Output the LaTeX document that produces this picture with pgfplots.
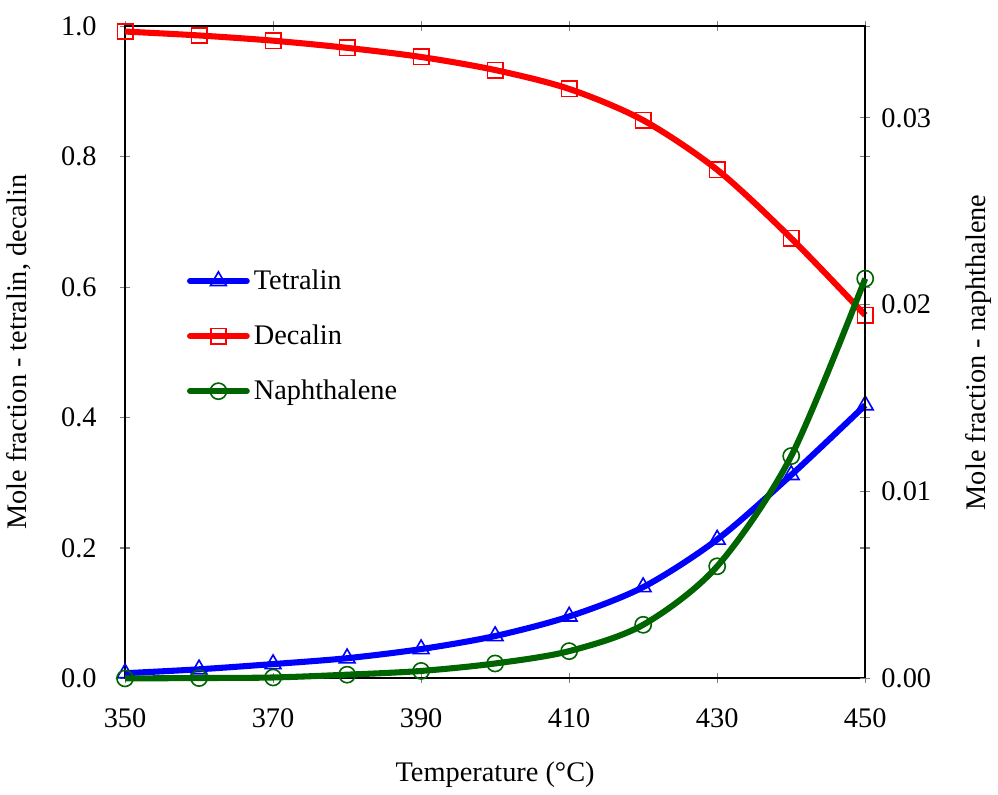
\documentclass[border=0pt]{standalone}
\usepackage{fontspec}
\setmainfont{Liberation Serif}
\usepackage{pgfplots}
\pgfplotsset{compat=1.18}

\definecolor{cTet}{RGB}{0,0,255}
\definecolor{cDec}{RGB}{255,0,0}
\definecolor{cNap}{RGB}{0,100,0}

\pgfplotsset{
  common/.style={
    scale only axis,
    width=365.5pt, height=322pt,
    xmin=350, xmax=450,
    xtick={350,370,...,450},
    tick align=center,
    major tick length=5pt,
    tick style={gray, line width=0.5pt},
    axis line style={black, line width=1pt},
    ticklabel style={font=\fontsize{14}{16}\selectfont},
    label style={font=\fontsize{14}{16}\selectfont},
    /pgf/number format/assume math mode=true,
    clip=false,
  },
}

\begin{document}
\begin{tikzpicture}
\begin{axis}[
  common,
  ymin=0, ymax=1,
  ytick={0,0.2,...,1.0},
  yticklabel style={/pgf/number format/fixed, /pgf/number format/fixed zerofill,
    /pgf/number format/precision=1, xshift=-8pt},
  xticklabel style={yshift=-9pt},
  xlabel={Temperature (°C)},
  ylabel={Mole fraction - tetralin, decalin},
  xlabel style={yshift=-10pt},
  ylabel style={yshift=8pt},
  legend style={at={(0.075,0.64)}, anchor=north west, draw=none, fill=none,
    font=\fontsize{14}{16}\selectfont, row sep=12pt},
  legend cell align=left,
  legend image code/.code={
    \draw[#1, line cap=round, mark repeat=2, mark phase=2] plot coordinates {(0pt,0pt) (14pt,0pt) (28pt,0pt)};
  },
]
\addplot[cTet, line width=3pt, smooth, mark=triangle, mark size=4.5pt,
  mark options={line width=0.8pt, fill=white, solid}]
coordinates {
(350,0.008) (360,0.014) (370,0.022) (380,0.031) (390,0.045) (400,0.065)
(410,0.095) (420,0.140) (430,0.213) (440,0.312) (450,0.419)
};
\addlegendentry{Tetralin}
\addplot[cDec, line width=3pt, smooth, mark=square, mark size=3.8pt,
  mark options={line width=0.8pt, fill=none, solid}]
coordinates {
(350,0.992) (360,0.986) (370,0.978) (380,0.967) (390,0.953) (400,0.933)
(410,0.904) (420,0.856) (430,0.780) (440,0.675) (450,0.557)
};
\addlegendentry{Decalin}
\addlegendimage{cNap, line width=3pt, mark=o, mark size=4pt,
  mark options={line width=0.8pt, fill=white, solid}}
\addlegendentry{Naphthalene}
% extra room above the plot area
\path (rel axis cs:0,1) -- ++(0pt,13pt);
\end{axis}

\begin{axis}[
  common,
  axis x line=none,
  axis y line*=right,
  ymin=0, ymax=0.0349,
  ytick={0,0.01,0.02,0.03},
  scaled y ticks=false,
  yticklabel style={/pgf/number format/fixed, /pgf/number format/fixed zerofill,
    /pgf/number format/precision=2, xshift=2pt},
  ylabel={Mole fraction - naphthalene},
  ylabel style={yshift=-10pt},
]
\addplot[cNap, line width=3pt, smooth, mark=o, mark size=4pt,
  mark options={line width=0.8pt, fill=none, solid}]
coordinates {
(350,0.00000) (360,0.00002) (370,0.00005) (380,0.0002) (390,0.0004) (400,0.0008)
(410,0.00146) (420,0.00287) (430,0.0060) (440,0.0119) (450,0.0214)
};
\end{axis}
\end{tikzpicture}
\end{document}
